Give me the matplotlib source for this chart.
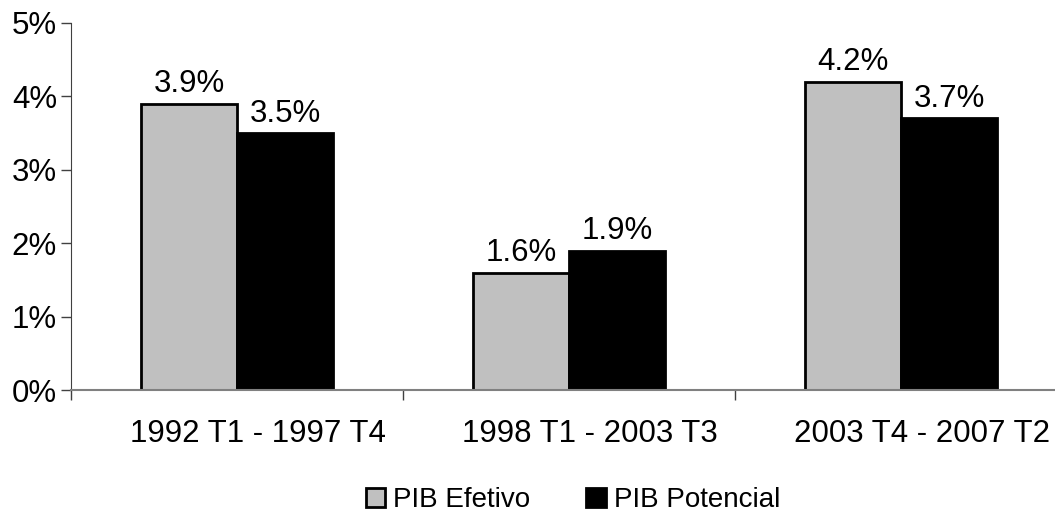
import matplotlib

matplotlib.use("Agg")
import matplotlib.pyplot as plt
import numpy as np
from matplotlib.ticker import FuncFormatter
from matplotlib.transforms import ScaledTranslation

plt.rcParams["font.family"] = ["Liberation Sans", "DejaVu Sans"]

periods = ["1992 T1 - 1997 T4", "1998 T1 - 2003 T3", "2003 T4 - 2007 T2"]
pib_efetivo = [3.9, 1.6, 4.2]
pib_potencial = [3.5, 1.9, 3.7]
series_names = ["PIB Efetivo", "PIB Potencial"]

fig = plt.figure(figsize=(10.55, 5.17), dpi=100)
ax = fig.add_axes([71 / 1055, 127 / 517, 996 / 1055, 367 / 517])

x = np.arange(1, len(periods) + 1)
w = 0.289
b1 = ax.bar(x - w / 2, pib_efetivo, w, color="#c0c0c0", edgecolor="black",
            linewidth=2, label=series_names[0])
b2 = ax.bar(x + w / 2, pib_potencial, w, color="black", edgecolor="black",
            linewidth=2, label=series_names[1])

for bars, vals in ((b1, pib_efetivo), (b2, pib_potencial)):
    for bar, v in zip(bars, vals):
        ax.text(bar.get_x() + bar.get_width() / 2, v + 0.06, f"{v:.1f}%",
                ha="center", va="bottom", fontsize=22.5)

ax.set_xlim(0.5, 3.5)
ax.set_ylim(0, 5)
ax.set_yticks(range(0, 6))
ax.yaxis.set_major_formatter(FuncFormatter(lambda v, _: f"{v:.0f}%"))
ax.set_xticks([0.5, 1.5, 2.5])
ax.set_xticklabels([])
ax.set_xticks(x, minor=True)
ax.set_xticklabels(periods, minor=True)
ax.tick_params(axis="x", which="minor", length=0, labelsize=22.5, pad=21)
ax.tick_params(axis="x", which="major", length=7, width=1, color="#404040", direction="out")
ax.tick_params(axis="y", length=7, width=1, labelsize=22.5, pad=3, color="#404040")

# category labels sit a little right of the bar pairs in the original
shift = ScaledTranslation(21 / 100, 0, fig.dpi_scale_trans)
for lab in ax.get_xticklabels(minor=True):
    lab.set_transform(lab.get_transform() + shift)

for s in ("top", "right"):
    ax.spines[s].set_visible(False)
ax.spines["left"].set_color("#404040")
ax.spines["bottom"].set_color("#808080")
ax.spines["bottom"].set_linewidth(1.5)

fig.legend(handles=[b1, b2], loc="center", bbox_to_anchor=(573 / 1055, 1 - 500 / 517),
           ncol=2, frameon=False, fontsize=20, handlelength=0.7, handleheight=0.7,
           handletextpad=0.3, columnspacing=2.0)

fig.savefig("out.png", dpi=100)
